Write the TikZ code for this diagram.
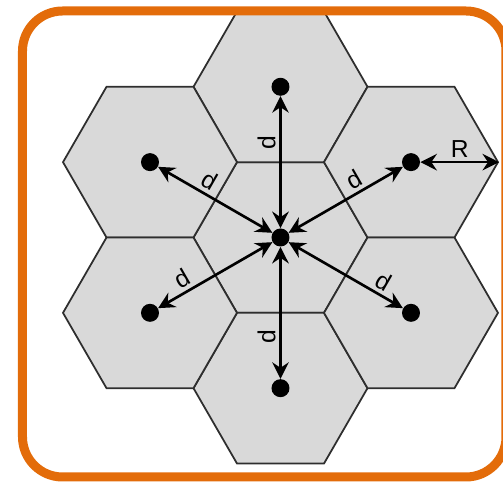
\documentclass[tikz,border=0pt]{standalone}
\usepackage{fontspec}
\setmainfont{Liberation Sans}
\usetikzlibrary{arrows.meta, shapes.geometric}
\definecolor{frameorange}{HTML}{E36C0A}
\definecolor{cellgray}{HTML}{D9D9D9}
\definecolor{celledge}{HTML}{2E2E2E}

\begin{document}
\begin{tikzpicture}[font=\fontsize{14}{16}\selectfont,
    cell/.style={regular polygon, regular polygon sides=6, minimum size=3.48cm,
      inner sep=0pt, fill=cellgray, draw=celledge, line width=1pt},
    site/.style={circle, fill=black, minimum size=0.36cm, inner sep=0pt},
    dist/.style={{Stealth[length=3.3mm, width=3.3mm, inset=1.1mm]}-{Stealth[length=3.3mm, width=3.3mm, inset=1.1mm]},
      line width=1.5pt},
    lbl/.style={sloped, above, inner sep=2pt}]
  \useasboundingbox (0,0) rectangle (10.06,9.7);
  \clip (0,0) rectangle (10.06,9.7);
  % --- the seven cells ---
  \foreach \name/\x/\y in {c/5.61/4.95, t/5.61/7.964, b/5.61/1.936,
      ul/3.0/6.457, ur/8.22/6.457, ll/3.0/3.443, lr/8.22/3.443}
    {\node[cell] (cell-\name) at (\x,\y) {};}
  % --- base stations ---
  \foreach \name in {c, t, b, ul, ur, ll, lr}
    {\node[site] (\name) at (cell-\name.center) {};}
  % --- reuse distances ---
  \draw[dist] (c) -- node[lbl, pos=0.65] {d} (t);
  \draw[dist] (b) -- node[lbl, pos=0.32] {d} (c);
  \draw[dist] (c) -- node[lbl, pos=0.63] {d} (ur);
  \draw[dist] (ul) -- node[lbl, pos=0.39] {d} (c);
  \draw[dist] (ll) -- node[lbl, pos=0.27] {d} (c);
  \draw[dist] (c) -- node[lbl, pos=0.77] {d} (lr);
  % --- cell radius ---
  \draw[dist] (ur) -- node[above, inner sep=2pt] {R} (cell-ur.0);
  % --- frame ---
  \draw[frameorange, line width=0.18cm, rounded corners=0.8cm]
    (0.45,0.16) rectangle (10.12,9.48);
\end{tikzpicture}
\end{document}
